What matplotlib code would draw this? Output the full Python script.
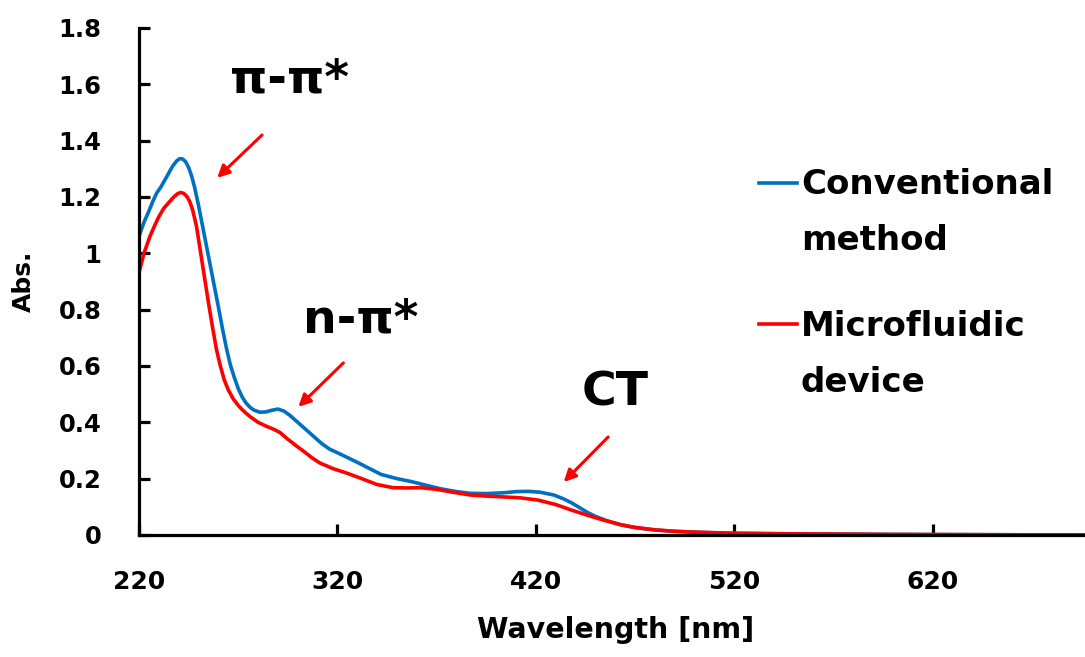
import numpy as np
import matplotlib.pyplot as plt
from matplotlib.lines import Line2D

plt.rcParams['font.family'] = ['DejaVu Sans']
plt.rcParams['font.weight'] = 'bold'

# Conventional method (blue)
wl_conv = [220, 222.5, 225, 227, 229, 231, 233, 235, 237, 239, 240.5, 242, 243.5, 245, 246.5, 248, 250,
           252.5, 255, 257.5, 260, 262, 264, 266, 268, 270, 272, 274, 276, 278, 281, 284, 287, 290,
           293, 296, 300, 304, 308, 312, 316, 320, 325, 330, 335, 342, 350, 357, 365, 372, 380, 387,
           395, 404, 410, 416, 422, 429, 434, 438, 442, 446, 450, 456, 463, 470, 480, 490,
           500, 520, 550, 600, 650, 700]
abs_conv = [1.06, 1.11, 1.15, 1.185, 1.215, 1.235, 1.26, 1.285, 1.31, 1.328, 1.336, 1.335, 1.325, 1.305, 1.275, 1.235, 1.17,
            1.08, 0.99, 0.90, 0.81, 0.735, 0.665, 0.605, 0.56, 0.52, 0.49, 0.468, 0.453, 0.443, 0.436, 0.437, 0.443, 0.447,
            0.44, 0.425, 0.40, 0.375, 0.35, 0.325, 0.305, 0.292, 0.275, 0.258, 0.24, 0.215, 0.2, 0.19, 0.176, 0.164, 0.154, 0.148,
            0.147, 0.15, 0.154, 0.155, 0.152, 0.142, 0.128, 0.114, 0.097, 0.08, 0.066, 0.05, 0.036, 0.026, 0.018, 0.013,
            0.01, 0.006, 0.004, 0.002, 0.001, 0.0]

# Microfluidic device (red)
wl_micro = [220, 222.5, 225.5, 228, 230, 232.5, 235, 237.5, 239.5, 241, 242.5, 244, 245.5, 247, 249, 251, 253,
            255, 257, 259, 261, 263, 265, 267.5, 270, 272, 274, 276, 280, 284.5, 288, 291, 295, 299, 303,
            307, 311, 318, 325, 333, 340, 348, 355, 362, 370, 378, 387, 395,
            404, 412, 421, 430, 437.7, 446, 454, 463, 470, 480, 490, 500, 520, 550, 600, 650, 700]
abs_micro = [0.93, 1.0, 1.06, 1.1, 1.13, 1.16, 1.18, 1.2, 1.212, 1.216, 1.213, 1.203, 1.185, 1.155, 1.095, 1.005, 0.915,
             0.825, 0.74, 0.66, 0.6, 0.55, 0.515, 0.483, 0.46, 0.445, 0.432, 0.42, 0.4, 0.385, 0.375, 0.364, 0.34, 0.318, 0.297,
             0.275, 0.256, 0.235, 0.219, 0.198, 0.179, 0.168, 0.167, 0.168, 0.162, 0.152, 0.142, 0.138,
             0.135, 0.132, 0.124, 0.108, 0.089, 0.07, 0.053, 0.036, 0.027, 0.018, 0.013, 0.01, 0.006, 0.004, 0.002, 0.001, 0.0]

blue = '#0070C0'
red = '#FF0000'

fig = plt.figure(figsize=(10.85, 6.57), dpi=100)
ax = fig.add_axes([0.1281, 0.1857, 0.878, 0.7717])

ax.plot(wl_conv, abs_conv, color=blue, lw=2.6, solid_capstyle='round', solid_joinstyle='round')
ax.plot(wl_micro, abs_micro, color=red, lw=2.6, solid_capstyle='round', solid_joinstyle='round')

ax.set_xlim(220, 700)
ax.set_ylim(0, 1.8)
ax.set_xticks([220, 320, 420, 520, 620])
ax.set_yticks(np.arange(0, 1.81, 0.2))
ax.set_yticklabels(['0', '0.2', '0.4', '0.6', '0.8', '1', '1.2', '1.4', '1.6', '1.8'])

ax.spines['top'].set_visible(False)
ax.spines['right'].set_visible(False)
ax.spines['left'].set_linewidth(2.3)
ax.spines['bottom'].set_linewidth(2.3)
ax.tick_params(direction='in', length=8, width=2.3, labelsize=17.5)
ax.tick_params(axis='y', pad=27)
ax.tick_params(axis='x', pad=25, labelsize=18)

ax.set_xlabel('Wavelength [nm]', fontsize=20.5, fontweight='bold', labelpad=16)
ax.set_ylabel('Abs.', fontsize=18, fontweight='bold', labelpad=16)

# band annotations
arrow = dict(arrowstyle='-|>', color=red, lw=2.2, mutation_scale=18, shrinkA=0, shrinkB=0)
ax.annotate('', xy=(259.4, 1.268), xytext=(282, 1.42), arrowprops=arrow)
ax.annotate('', xy=(300.3, 0.455), xytext=(323, 0.611), arrowprops=arrow)
ax.annotate('', xy=(434, 0.188), xytext=(456.4, 0.348), arrowprops=arrow)
ax.text(296, 1.616, 'π-π*', fontsize=34, fontweight='bold', ha='center', va='center')
ax.text(331.6, 0.764, 'n-π*', fontsize=34, fontweight='bold', ha='center', va='center')
ax.text(460, 0.504, 'CT', fontsize=34, fontweight='bold', ha='center', va='center')

# legend, drawn by hand so the line sits on the first text row
W, H = 1085, 657
for c, y, lines in [(blue, 183, ['Conventional', 'method']), (red, 324, ['Microfluidic', 'device'])]:
    fig.add_artist(Line2D([759 / W, 797 / W], [1 - y / H, 1 - y / H], color=c, lw=2.6,
                          transform=fig.transFigure))
    for k, s in enumerate(lines):
        fig.text(801 / W, 1 - (y + 2 + 56 * k) / H, s, fontsize=24.5, fontweight='bold',
                 ha='left', va='center')

fig.savefig('out.png', dpi=100)
